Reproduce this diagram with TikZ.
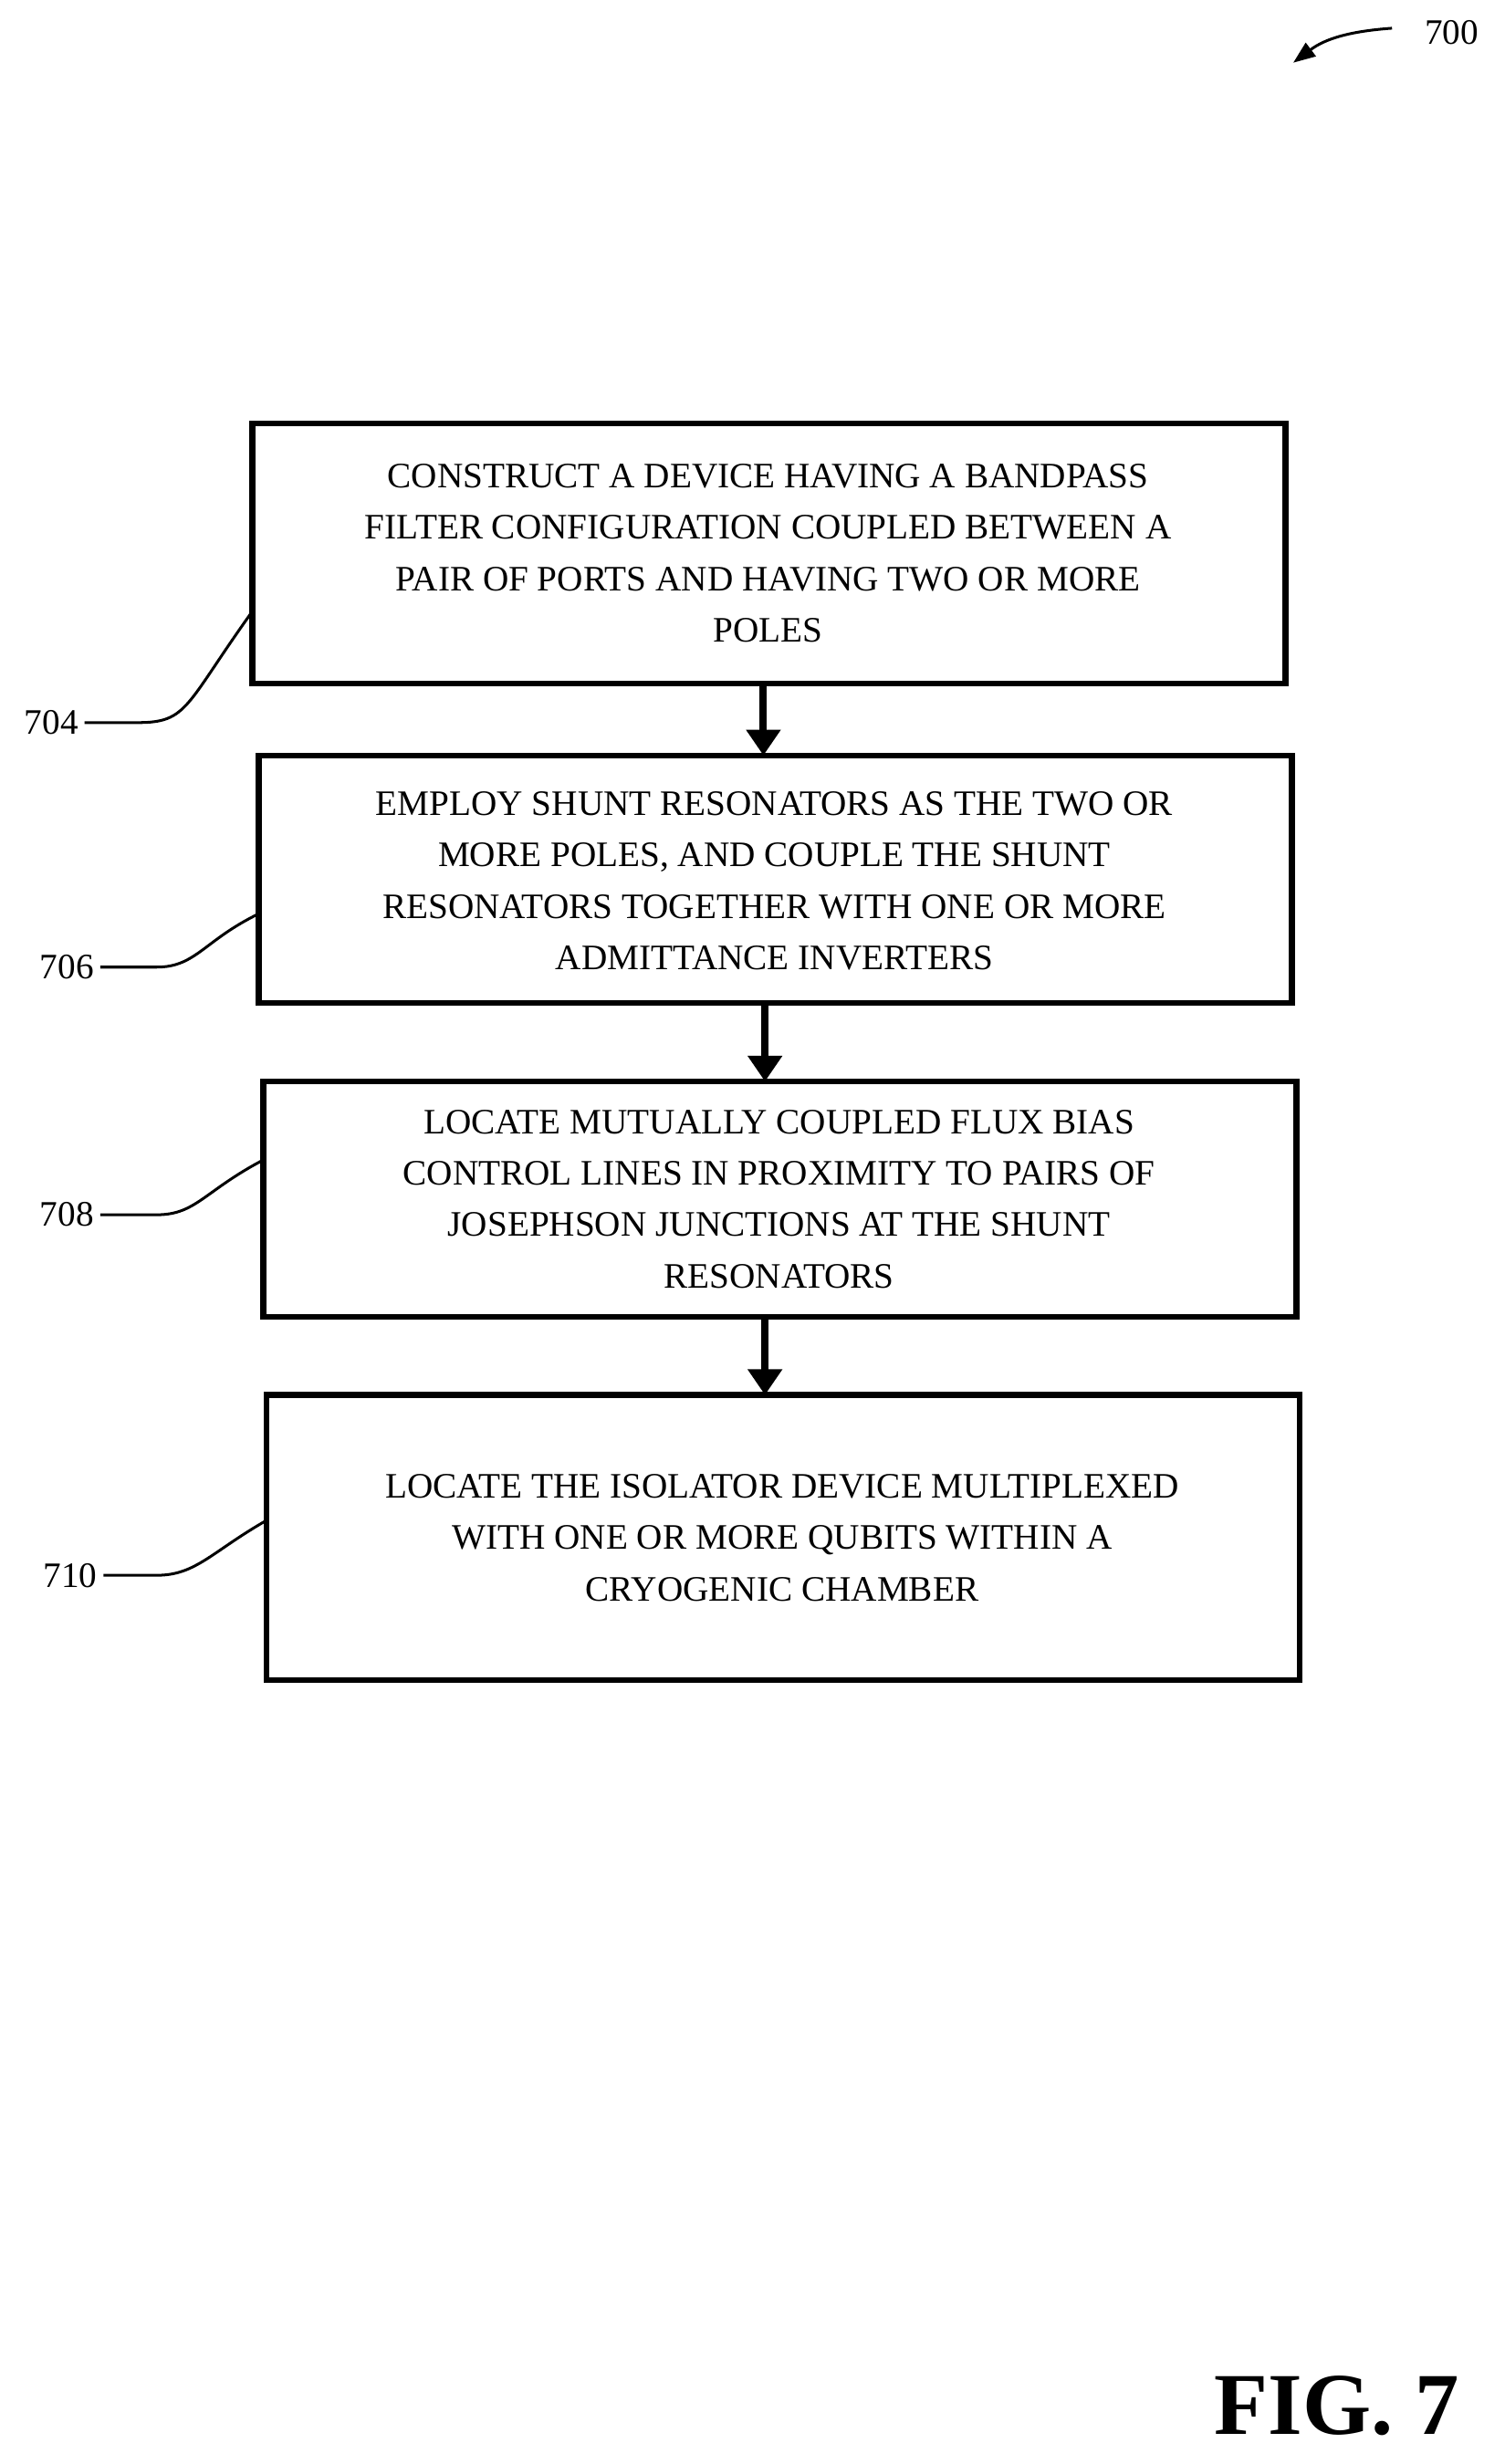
\documentclass[tikz,border=0pt]{standalone}
\usepackage{fontspec}
\setmainfont{Liberation Serif}
\usetikzlibrary{arrows.meta}
\begin{document}
\begin{tikzpicture}[x=0.03cm,y=-0.03cm,
  box/.style={draw,line width=3.2pt,inner sep=0pt},
  txt/.style={align=center,font=\fontsize{19.5}{28}\selectfont},
  lbl/.style={font=\fontsize{19.5}{24}\selectfont},
  lead/.style={line width=1.5pt},
  flow/.style={line width=4pt,-{Triangle[length=14pt,width=18pt]}}]
\useasboundingbox (0,0) rectangle (960,1572);
\draw[box] (161,270) rectangle (820,436);
\draw[box] (165,482) rectangle (824,640);
\draw[box] (168,690) rectangle (827,840);
\draw[box] (170,890) rectangle (829,1072);
\coordinate (b1) at (487,436); \coordinate (t2) at (487,482);
\coordinate (b2) at (488,640); \coordinate (t3) at (488,690);
\coordinate (b3) at (488,840); \coordinate (t4) at (488,890);
\node[txt] (n1) at (490,353) {CONSTRUCT A DEVICE HAVING A BANDPASS\\FILTER CONFIGURATION COUPLED BETWEEN A\\PAIR OF PORTS AND HAVING TWO OR MORE\\POLES};
\node[txt] (n2) at (494,562) {EMPLOY SHUNT RESONATORS AS THE TWO OR\\MORE POLES, AND COUPLE THE SHUNT\\RESONATORS TOGETHER WITH ONE OR MORE\\ADMITTANCE INVERTERS};
\node[txt] (n3) at (497,765) {LOCATE MUTUALLY COUPLED FLUX BIAS\\CONTROL LINES IN PROXIMITY TO PAIRS OF\\JOSEPHSON JUNCTIONS AT THE SHUNT\\RESONATORS};
\node[txt] (n4) at (499,981) {LOCATE THE ISOLATOR DEVICE MULTIPLEXED\\WITH ONE OR MORE QUBITS WITHIN A\\CRYOGENIC CHAMBER};
\draw[flow] (b1) -- (t2);
\draw[flow] (b2) -- (t3);
\draw[flow] (b3) -- (t4);
\node[lbl,anchor=east] (l704) at (54,461) {704};
\node[lbl,anchor=east] (l706) at (64,617) {706};
\node[lbl,anchor=east] (l708) at (64,775) {708};
\node[lbl,anchor=east] (l710) at (66,1005) {710};
\coordinate (c704) at (161,390); \coordinate (c706) at (165,583);
\coordinate (c708) at (168,740); \coordinate (c710) at (170,970);
\draw[lead] (l704.east) -- (88,461) .. controls (120,461) and (118,450) .. (c704);
\draw[lead] (l706.east) -- (100,617) .. controls (125,617) and (130,600) .. (c706);
\draw[lead] (l708.east) -- (100,775) .. controls (125,775) and (130,760) .. (c708);
\draw[lead] (l710.east) -- (100,1005) .. controls (125,1005) and (135,990) .. (c710);
\node[lbl] (l700) at (926,21) {700};
\coordinate (a700) at (825,40);
\draw[lead,-{Triangle[length=12pt,width=9pt]}] (888,18) .. controls (860,20) and (845,25) .. (a700);
\node[font=\bfseries\fontsize{48}{50}\selectfont] (fig) at (853,1535) {FIG. 7};
\end{tikzpicture}
\end{document}
